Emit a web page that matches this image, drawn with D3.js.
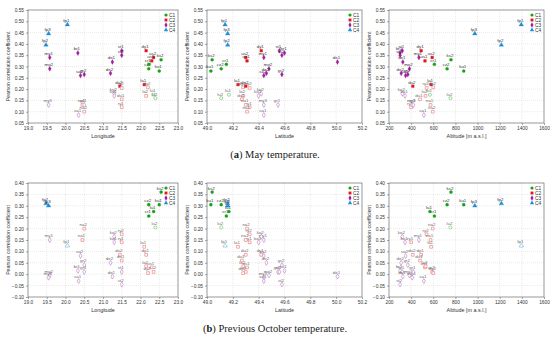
<!DOCTYPE html>
<html>
<head>
<meta charset="utf-8">
<script src="https://cdn.jsdelivr.net/npm/d3@7"></script>
<style>
  body { margin: 0; background: #fff; }
  svg { display: block; }
  text { font-family: Arial, 'Liberation Sans', sans-serif; }
</style>
</head>
<body>
<svg></svg>
<script>
const w = 550;
const h = 343;

// stations (estimated)
const stations = ['fp1','fp2','fp3','ks2','ku1','cz2','cr1','lu1','lu2',
  'dy1','us2','us1','la1','dy2','la2','du2','ry2','du1','ry1','na1','na2',
  'my1','mo2','my3','br1','sa2','gr2','gr1','sa1','st1','st2','de1','de2','ko2','ko1'];
const cluster = [4,4,4,1,1,1,1,1,1,
  2,2,2,2,2,2,2,2,2,2,2,2,
  3,3,3,3,3,3,3,3,3,3,3,3,3,3];
const longitude = [20.05,19.48,19.55,22.55,22.5,22.22,22.22,22.35,22.4,
  22.15,22.35,22.3,22.1,22.2,22.15,21.45,21.5,21.5,21.5,20.45,20.5,
  19.58,19.58,19.55,20.33,20.4,20.5,20.5,20.35,21.5,21.5,21.25,21.2,21.3,21.3];
const latitude = [49.14,49.16,49.16,49.04,49.03,49.11,49.15,49.17,49.11,
  49.42,49.3,49.31,49.24,49.28,49.28,49.3,49.33,49.27,49.33,49.3,49.31,
  49.44,49.48,49.44,49.6,49.44,49.58,49.55,49.44,49.56,49.58,50.01,49.46,49.42,49.4];
const altitude = [1395,1215,975,760,875,725,610,570,755,
  490,590,525,580,600,530,415,540,480,400,575,595,
  470,385,410,300,350,370,420,515,320,300,325,310,320,345];
const rMay = [0.485,0.395,0.445,0.33,0.28,0.29,0.31,0.175,0.16,
  0.37,0.34,0.325,0.22,0.208,0.17,0.213,0.205,0.155,0.12,0.13,0.10,
  0.34,0.29,0.13,0.36,0.26,0.265,0.13,0.085,0.37,0.35,0.32,0.27,0.18,0.17];
const rOct = [0.125,0.31,0.30,0.36,0.305,0.305,0.255,0.275,0.205,
  0.085,0.01,0.03,0.12,0.005,0.035,0.085,0.175,0.06,0.14,0.15,0.20,
  0.15,-0.005,-0.015,0.015,0.08,0.04,0.01,-0.03,0.01,-0.045,-0.01,0.05,0.165,0.14];

const clusterNames = ['C1','C2','C3','C4'];
const lonTicks = [19,19.5,20,20.5,21,21.5,22,22.5,23];
const latTicks = [49,49.2,49.4,49.6,49.8,50,50.2];
const altTicks = [200,400,600,800,1000,1200,1400,1600];
const mayTicks = [0.05,0.1,0.15,0.2,0.25,0.3,0.35,0.4,0.45,0.5,0.55];
const octTicks = [-0.1,-0.05,0,0.05,0.1,0.15,0.2,0.25,0.3,0.35,0.4];

const SIG = 0.21;
const colors = { 1: '#13a313', 2: '#e3161c', 3: '#a11f9e', 4: '#1c8fd6' };
const light = { 1: '#6cc86c', 2: '#f08486', 3: '#c98ac8', 4: '#7fc0ea' };
const shapes = { 1: d3.symbolCircle, 2: d3.symbolSquare, 3: d3.symbolDiamond, 4: d3.symbolTriangle };

const svg = d3.select('svg').attr('width', w).attr('height', h);

const data = stations.map((s, i) => ({
  name: s, cl: cluster[i], lon: longitude[i], lat: latitude[i],
  alt: altitude[i], may: rMay[i], oct: rOct[i]
}));

const cols = [
  { left: 28, right: 178, key: 'lon', ticks: lonTicks, fmt: '.1f', title: 'Longitude' },
  { left: 207, right: 362, key: 'lat', ticks: latTicks, fmt: '.1f', title: 'Latitude' },
  { left: 389, right: 544, key: 'alt', ticks: altTicks, fmt: 'd', title: 'Altitude [m a.s.l.]' }
];
const rows = [
  { top: 10, bottom: 123, key: 'may', ticks: mayTicks },
  { top: 183, bottom: 297, key: 'oct', ticks: octTicks }
];

function drawPanel(c, r) {
  const x = d3.scaleLinear().domain([c.ticks[0], c.ticks[c.ticks.length - 1]]).range([c.left, c.right]);
  const y = d3.scaleLinear().domain([r.ticks[0], r.ticks[r.ticks.length - 1]]).range([r.bottom, r.top]);
  const g = svg.append('g');

  // grid
  g.append('g')
    .selectAll('line')
    .data(c.ticks.slice(1, -1))
    .enter()
    .append('line')
    .attr('x1', d => x(d)).attr('x2', d => x(d))
    .attr('y1', r.top).attr('y2', r.bottom)
    .attr('stroke', '#d4d4d4').attr('stroke-width', 0.5).attr('stroke-dasharray', '1,1');
  g.append('g')
    .selectAll('line')
    .data(r.ticks.slice(1, -1))
    .enter()
    .append('line')
    .attr('y1', d => y(d)).attr('y2', d => y(d))
    .attr('x1', c.left).attr('x2', c.right)
    .attr('stroke', '#d4d4d4').attr('stroke-width', 0.5).attr('stroke-dasharray', '1,1');

  // axes
  const xa = g.append('g')
    .attr('transform', `translate(0,${r.bottom})`)
    .call(d3.axisBottom(x).tickValues(c.ticks).tickFormat(d3.format(c.fmt)).tickSize(2).tickPadding(2));
  const ya = g.append('g')
    .attr('transform', `translate(${c.left},0)`)
    .call(d3.axisLeft(y).tickValues(r.ticks).tickFormat(d3.format('.2f')).tickSize(2).tickPadding(2));
  [xa, ya].forEach(a => {
    a.select('.domain').remove();
    a.selectAll('line').attr('stroke', '#555').attr('stroke-width', 0.5);
    a.selectAll('text').attr('font-size', 4.8).attr('fill', '#333').attr('font-family', 'Arial, Liberation Sans, sans-serif');
  });

  g.append('rect')
    .attr('x', c.left).attr('y', r.top)
    .attr('width', c.right - c.left).attr('height', r.bottom - r.top)
    .attr('fill', 'none').attr('stroke', '#555').attr('stroke-width', 0.6);

  // titles
  g.append('text')
    .text(c.title)
    .attr('x', (c.left + c.right) / 2).attr('y', r.bottom + 15)
    .attr('text-anchor', 'middle').attr('font-size', 5.4).attr('fill', '#333');
  g.append('text')
    .text('Pearson correlation coefficient')
    .attr('transform', `translate(${c.left - 18},${(r.top + r.bottom) / 2}) rotate(-90)`)
    .attr('text-anchor', 'middle').attr('font-size', 5.2).attr('fill', '#333');

  // points
  const pts = g.append('g')
    .selectAll('g')
    .data(data)
    .enter()
    .append('g')
    .attr('transform', d => `translate(${x(d[c.key])},${y(d[r.key])})`);
  pts.append('path')
    .attr('d', d => d3.symbol().type(shapes[d.cl]).size(d.cl === 4 ? 9 : 7.5)())
    .attr('fill', d => d[r.key] > SIG ? colors[d.cl] : '#fff')
    .attr('stroke', d => d[r.key] > SIG ? colors[d.cl] : light[d.cl])
    .attr('stroke-width', d => d[r.key] > SIG ? 0.3 : 0.7);
  pts.append('text')
    .text(d => d.name)
    .attr('x', -1).attr('y', -2.6)
    .attr('text-anchor', 'middle').attr('font-size', 4.4)
    .attr('fill', d => d[r.key] > SIG ? '#333' : '#6a6a6a');

  // legend
  const lg = g.append('g')
    .attr('transform', `translate(${c.right - 12},${r.top + 5})`);
  clusterNames.forEach((n, i) => {
    lg.append('path')
      .attr('transform', `translate(0,${i * 5})`)
      .attr('d', d3.symbol().type(shapes[i + 1]).size(8)())
      .attr('fill', colors[i + 1]);
    lg.append('text')
      .text(n)
      .attr('x', 3).attr('y', i * 5 + 1.7)
      .attr('font-size', 4.8).attr('fill', '#333');
  });
}

rows.forEach(r => cols.forEach(c => drawPanel(c, r)));

// captions
const cap = [
  { y: 158, label: 'a', rest: ' May temperature.' },
  { y: 332, label: 'b', rest: ' Previous October temperature.' }
];
cap.forEach(t => {
  const tx = svg.append('text')
    .attr('x', 275).attr('y', t.y)
    .attr('text-anchor', 'middle')
    .attr('font-size', 10.5)
    .attr('fill', '#222')
    .style('font-family', "'Liberation Serif', 'DejaVu Serif', serif");
  tx.append('tspan').text('(');
  tx.append('tspan').text(t.label).attr('font-weight', 'bold');
  tx.append('tspan').text(')' + t.rest);
});
</script>
</body>
</html>
